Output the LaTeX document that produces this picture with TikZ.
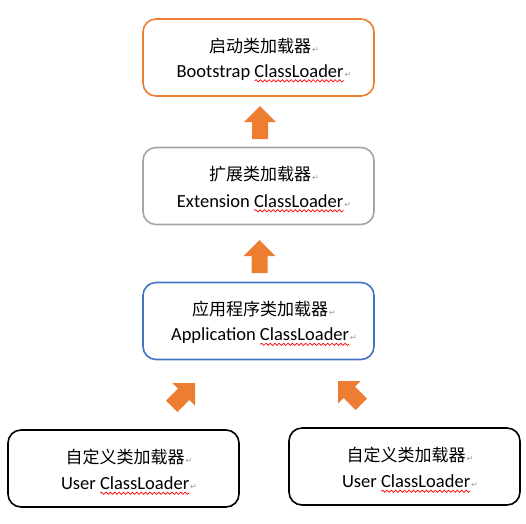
\documentclass[tikz,border=0pt]{standalone}
\usepackage{fontspec}
\usepackage{xcolor}
\usetikzlibrary{decorations.pathmorphing}
\setmainfont{Carlito}
\newfontfamily\cjk{Noto Sans CJK SC}
\newfontfamily\symfont{DejaVu Sans}
\definecolor{borange}{HTML}{ED7D31}
\definecolor{bgray}{HTML}{A5A5A5}
\definecolor{bblue}{HTML}{4472C4}
\definecolor{retgray}{HTML}{9A9A9A}
\newcommand\retmark{\kern1pt{\symfont\fontsize{8}{8}\selectfont\textcolor{retgray}{↵}}}
\newcommand\zh[1]{{\cjk\fontsize{17}{26}\selectfont #1}}
\newlength\wcl
\newlength\wret
\AtBeginDocument{%
  \settowidth\wcl{\fontsize{18.5}{26}\selectfont ClassLoader}%
  \settowidth\wret{\retmark}}
\tikzset{
  loader/.style={draw, rectangle, rounded corners=13pt, line width=1.6pt,
    minimum width=231pt, minimum height=77pt, inner sep=0pt},
  zhline/.style={inner sep=0pt},
  enline/.style={inner sep=0pt, font=\fontsize{18.5}{26}\selectfont},
  wavy/.style={draw=red, line width=0.7pt, decorate,
    decoration={snake, amplitude=1.1pt, segment length=4.4pt}},
  blockarrow/.pic={\fill[borange] (0,0) -- (-16,16) -- (-8,16) -- (-8,33) -- (8,33) -- (8,16) -- (16,16) -- cycle;}
}
\newcommand\loaderbox[6]{%
  \node[loader, draw=#4] (#1) at (#2,#3) {};
  \node[zhline] (#1-zh) at ([xshift=5.5pt,yshift=11.5pt]#1.center) {\zh{#5}\retmark};
  \node[enline] (#1-en) at ([xshift=5.5pt,yshift=-15pt]#1.center) {#6 ClassLoader\retmark};
  \coordinate (#1-wa) at ([xshift=-\wcl-\wret,yshift=-3.4pt]#1-en.base east);
  \coordinate (#1-wb) at ([xshift=-\wret,yshift=-3.4pt]#1-en.base east);
  \path[wavy] (#1-wa) -- (#1-wb);
}
\begin{document}
\begin{tikzpicture}[x=1pt,y=-1pt]
\useasboundingbox (0,0) rectangle (526,523);
\loaderbox{boot}{258.5}{57.5}{borange}{启动类加载器}{Bootstrap}
\loaderbox{ext}{258.5}{186}{bgray}{扩展类加载器}{Extension}
\loaderbox{app}{258.5}{321}{bblue}{应用程序类加载器}{Application}
\loaderbox{userl}{123.5}{468.5}{black}{自定义类加载器}{User}
\loaderbox{userr}{404.5}{466.5}{black}{自定义类加载器}{User}
\pic at (260,106) {blockarrow};
\pic at (259.5,240) {blockarrow};
\pic[rotate=-45] at (195,383) {blockarrow};
\pic[rotate=45] at (338,381) {blockarrow};
\end{tikzpicture}
\end{document}
